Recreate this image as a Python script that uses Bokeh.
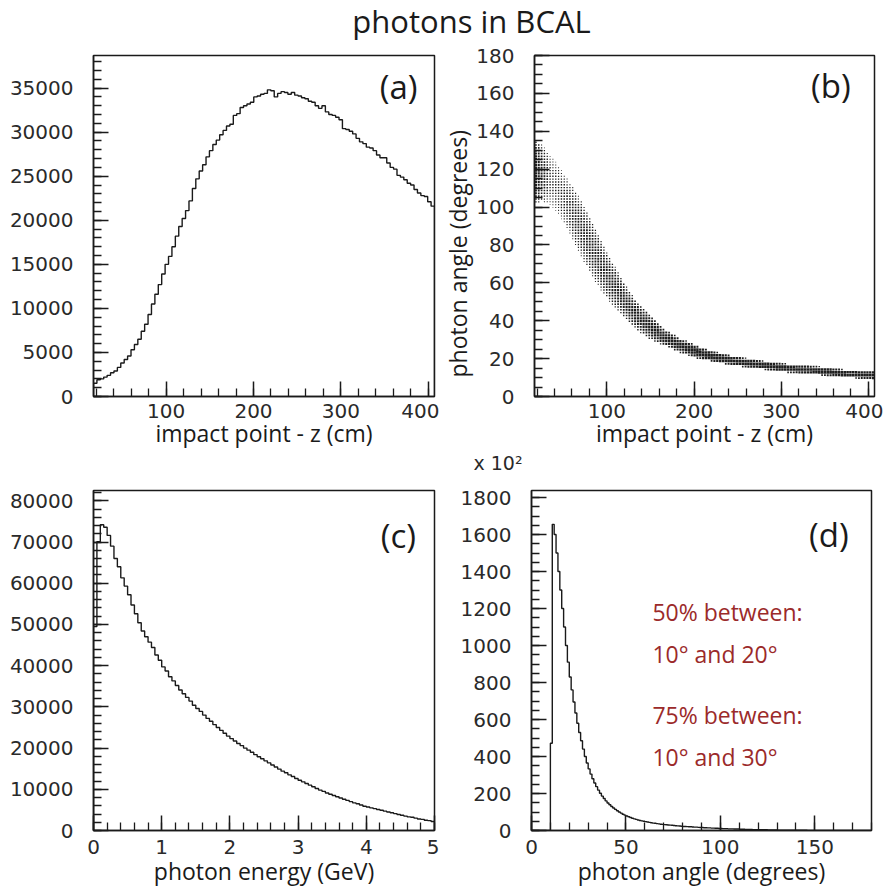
import numpy as np
from bokeh.plotting import figure
from bokeh.layouts import column, row
from bokeh.models import Range1d, SingleIntervalTicker, Label, Title
from bokeh.embed import file_html
from bokeh.resources import INLINE

# ---------------- data ----------------
# (a) impact point z (cm), 100 bins from 17 to 407
z_min, z_max = 17.0, 407.0
hist_a = [1500, 1900, 2000, 2200, 2400, 2700, 2900, 3300, 3800, 4200,
          4600, 5300, 5900, 6500, 7400, 8200, 9300, 10500, 11600, 12700,
          13900, 15000, 15900, 17000, 18200, 19300, 20200, 21100, 22200, 23600,
          24700, 25600, 26300, 27200, 27900, 28600, 29100, 29700, 30200, 30700,
          30900, 31900, 32100, 32800, 33000, 33200, 33400, 34000, 34100, 34300,
          34400, 34800, 34700, 34000, 34400, 34600, 34500, 34300, 34500, 34200,
          34100, 33900, 33800, 33500, 33400, 33000, 32700, 33000, 32300, 32000,
          31900, 31700, 31400, 30400, 30300, 30100, 29800, 29300, 28900, 28700,
          28300, 28200, 27900, 27400, 27100, 27100, 26500, 26000, 25800, 25100,
          24900, 24600, 24200, 24000, 23500, 23100, 22800, 22700, 22100, 21600]

# (b) photon angle vs impact point: band edges (degrees) and box fill level
band_z = [17, 25, 35, 45, 55, 65, 75, 85, 95, 105, 115, 125, 135, 150, 165,
          185, 205, 225, 250, 275, 300, 325, 350, 375, 407]
band_hi = [136, 133, 128, 122, 115, 108, 100, 91, 81, 72, 64, 56, 50, 43, 36,
           30.5, 26.5, 23.5, 21, 19, 17.5, 16.5, 15.5, 14.0, 13.5]
band_lo = [102, 103, 101, 96, 88, 79, 70, 62, 55, 49, 44, 39, 35, 30, 27,
           23, 20, 18, 16, 14.5, 13, 12, 11, 10, 9.0]
band_fill = [0.85, 0.7, 0.5, 0.5, 0.58, 0.62, 0.65, 0.66, 0.68, 0.7, 0.72, 0.75,
             0.78, 0.82, 0.86, 0.9, 0.95, 0.95, 0.95, 0.95, 0.95, 0.95, 0.95, 0.95, 0.95]

# (c) photon energy (GeV), 100 bins from 0 to 5
e_min, e_max = 0.0, 5.0
hist_c = [49500, 70100, 74200, 73600, 71600, 69000, 66000, 64000, 61300, 59300,
          57200, 54700, 52600, 50400, 48400, 47000, 45700, 44400, 42600, 41300,
          39700, 38700, 37300, 36300, 35200, 34100, 33200, 32300, 31400, 30400,
          29600, 28900, 28000, 27200, 26500, 25700, 25000, 24300, 23600, 22900,
          22300, 21700, 21100, 20600, 20000, 19500, 19000, 18400, 17900, 17400,
          16900, 16400, 15900, 15400, 14900, 14400, 14000, 13500, 13100, 12600,
          12200, 11800, 11400, 11000, 10600, 10200, 9800, 9500, 9100, 8800,
          8500, 8200, 7900, 7600, 7300, 7000, 6700, 6500, 6200, 5900,
          5700, 5500, 5300, 5100, 4900, 4700, 4500, 4300, 4100, 3900,
          3700, 3500, 3300, 3200, 3000, 2800, 2700, 2500, 2400, 2200]

# (d) photon angle (degrees), 180 bins from 0 to 180, in units of 10^2
a_min, a_max = 0.0, 180.0
hist_d = [0, 0, 0, 0, 0, 0, 0, 0, 0, 0,
          472, 1655, 1600, 1500, 1400, 1300, 1200, 1100, 1000, 910,
          830, 760, 695, 635, 580, 530, 485, 440, 400, 365,
          333, 305, 280, 257, 237, 218, 201, 186, 173, 160,
          149, 139, 130, 122, 114, 107, 100, 94, 88, 83,
          78, 74, 70, 66, 63, 60, 57, 54, 52, 50,
          48, 46, 44, 42, 40, 39, 37, 36, 34, 33,
          32, 31, 30, 29, 28, 27, 26, 25, 24, 23,
          22, 22, 21, 20, 20, 19, 18, 18, 17, 16,
          16, 15, 15, 14, 14, 13, 13, 12, 12, 11,
          11, 10, 10, 10, 9, 9, 9, 8, 8, 8,
          7, 7, 7, 6, 6, 6, 6, 5, 5, 5,
          5, 4, 4, 4, 4, 3, 3, 3, 3, 3,
          2, 2, 2, 2, 2, 2, 1, 1, 1, 1,
          1, 1, 1, 1, 1, 1, 0, 0, 0, 0]
hist_d = hist_d + [0] * (180 - len(hist_d))

TICK_FONT = "DejaVu Sans"
LABEL_FONT = "Open Sans"
INK = "#1a1a1a"
RED = "#9b2a2a"


def outline(lo, hi, vals):
    vals = np.asarray(vals, dtype=float)
    edges = np.linspace(lo, hi, len(vals) + 1)
    xs = np.repeat(edges, 2)
    ys = np.concatenate([[0.0], np.repeat(vals, 2), [0.0]])
    return xs, ys


def make_fig(xr, yr, left, right, top, bottom, fw, fh):
    p = figure(x_range=Range1d(*xr), y_range=Range1d(*yr),
               frame_width=fw, frame_height=fh,
               min_border_left=left, min_border_right=right,
               min_border_top=top, min_border_bottom=bottom,
               toolbar_location=None, output_backend="svg")
    p.grid.visible = False
    p.outline_line_color = INK
    p.outline_line_width = 1.5
    p.background_fill_color = "white"
    p.border_fill_color = "white"
    return p


def style_axes(p, xint, xminor, yint, yminor, xstand, xlabstand):
    p.xaxis.ticker = SingleIntervalTicker(interval=xint, num_minor_ticks=xminor)
    p.yaxis.ticker = SingleIntervalTicker(interval=yint, num_minor_ticks=yminor)
    for ax in (p.xaxis[0], p.yaxis[0]):
        ax.major_tick_in = 15
        ax.major_tick_out = 0
        ax.minor_tick_in = 8
        ax.minor_tick_out = 0
        ax.axis_line_width = 1.5
        ax.axis_line_color = INK
        ax.major_tick_line_width = 1.5
        ax.major_tick_line_color = INK
        ax.minor_tick_line_width = 1.3
        ax.minor_tick_line_color = INK
        ax.major_label_text_font = TICK_FONT
        ax.major_label_text_font_size = "20px"
        ax.major_label_text_color = "#2a2a2a"
        ax.axis_label_text_font = LABEL_FONT
        ax.axis_label_text_font_size = "23px"
        ax.axis_label_text_font_style = "normal"
        ax.axis_label_text_color = INK
    p.xaxis.major_label_standoff = xstand
    p.yaxis.major_label_standoff = 20
    p.xaxis.axis_label_standoff = xlabstand


def panel_label(p, x, y, text):
    p.add_layout(Label(x=x, y=y, text=text, text_align="center",
                       text_baseline="middle", text_font=LABEL_FONT,
                       text_font_size="33px", text_color=INK))


# ---------------- title ----------------
pt = figure(width=880, height=40, x_range=Range1d(0, 880), y_range=Range1d(0, 40),
            x_axis_type=None, y_axis_type=None, min_border=0,
            toolbar_location=None, output_backend="svg")
pt.outline_line_color = None
pt.grid.visible = False
pt.add_layout(Label(x=471, y=20, text="photons in BCAL", text_align="center",
                    text_baseline="middle", text_font=LABEL_FONT,
                    text_font_size="31px", text_color=INK))

# ---------------- (a) ----------------
pa = make_fig((z_min, z_max), (0, 38700), 93, 5, 15, 10, 341, 341)
xs, ys = outline(z_min, z_max, hist_a)
pa.line(xs, ys, line_color=INK, line_width=1.4)
style_axes(pa, 100, 5, 5000, 5, 7, -4)
pa.xaxis.axis_label = "impact point - z (cm)"
panel_label(pa, 366, 35200, "(a)")

# ---------------- (b) ----------------
pb = make_fig((z_min, z_max), (0, 180), 92, 9, 15, 10, 340, 341)
n_z, n_a = 120, 120
dz = (z_max - z_min) / n_z
da = 180.0 / n_a
zc = z_min + dz * (np.arange(n_z) + 0.5)
ac = da * (np.arange(n_a) + 0.5)
hi_c = np.interp(zc, band_z, band_hi)
lo_c = np.interp(zc, band_z, band_lo)
fill_c = np.interp(zc, band_z, band_fill)
bx, by, bw, bh = [], [], [], []
for j in range(n_z):
    inside = (ac >= lo_c[j]) & (ac <= hi_c[j])
    for a in ac[inside]:
        t = (a - lo_c[j]) / max(hi_c[j] - lo_c[j], 1e-6)
        f = fill_c[j] * (0.5 + 0.5 * np.sin(np.pi * t) ** 0.6)
        bx.append(zc[j]); by.append(a)
        bw.append(dz * f); bh.append(da * f)
pb.rect(x=bx, y=by, width=bw, height=bh, fill_color="#1e1e1e", line_color=None)
style_axes(pb, 100, 5, 20, 4, 7, -4)
pb.xaxis.axis_label = "impact point - z (cm)"
pb.add_layout(Title(text="photon angle (degrees)", align="left", offset=19,
                    standoff=0, text_font=LABEL_FONT, text_font_size="23px",
                    text_font_style="normal", text_color=INK), "left")
# exponent of panel (d)'s y axis, shown just above that panel
pb.add_layout(Title(text="x 10\u00b2", align="left", offset=-61, standoff=0,
                    vertical_align="top", text_font=TICK_FONT,
                    text_font_size="19px", text_font_style="normal",
                    text_color="#2a2a2a"), "below")
panel_label(pb, 357, 164, "(b)")

# ---------------- (c) ----------------
pc = make_fig((e_min, e_max), (0, 82500), 93, 5, 15, 10, 341, 340)
xs, ys = outline(e_min, e_max, hist_c)
pc.line(xs, ys, line_color=INK, line_width=1.4)
style_axes(pc, 1, 5, 10000, 5, 9, -2)
pc.xaxis.axis_label = "photon energy (GeV)"
panel_label(pc, 4.47, 71500, "(c)")

# ---------------- (d) ----------------
pd = make_fig((a_min, a_max), (0, 1838), 92, 9, 15, 10, 340, 340)
xs, ys = outline(a_min, a_max, hist_d)
pd.line(xs, ys, line_color=INK, line_width=1.4)
style_axes(pd, 50, 5, 200, 4, 9, -2)
pd.xaxis.axis_label = "photon angle (degrees)"
panel_label(pd, 157.4, 1598, "(d)")
notes = [("50% between:", 1180), ("10° and 20°", 953),
         ("75% between:", 623), ("10° and 30°", 395)]
for txt, yy in notes:
    pd.add_layout(Label(x=64, y=yy, text=txt, text_font=LABEL_FONT,
                        text_font_size="23px", text_color=RED,
                        text_baseline="alphabetic"))

layout = column(pt, row(pa, pb), row(pc, pd))
open("out.html", "w").write(file_html(layout, INLINE))
